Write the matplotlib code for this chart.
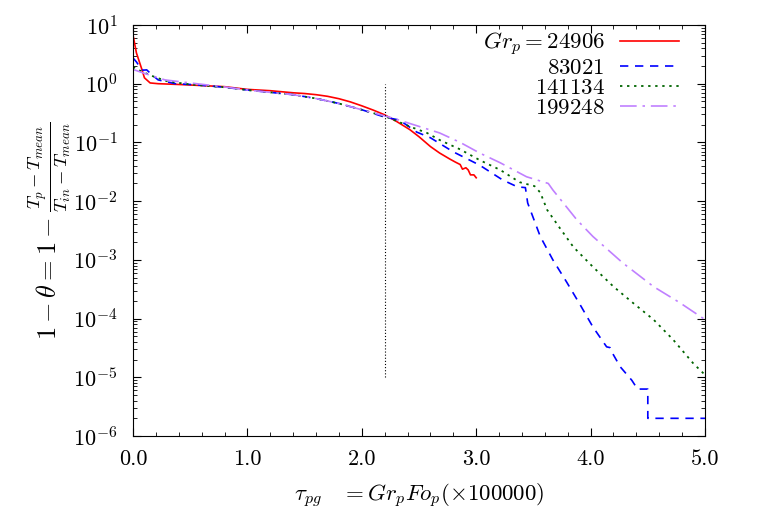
import matplotlib
matplotlib.use("Agg")
from matplotlib import pyplot as plt
from matplotlib.ticker import MultipleLocator, LogLocator, NullFormatter

# Gr_p = 24906
red_x = [0.0, 0.03, 0.08, 0.10, 0.15, 0.22, 0.4, 0.6, 0.8, 1.0, 1.2, 1.4, 1.5, 1.6, 1.7, 1.8, 1.9, 2.0,
         2.1, 2.2, 2.3, 2.42, 2.5, 2.6, 2.68, 2.77, 2.82, 2.86, 2.88, 2.91, 2.93, 2.95, 2.98, 3.0]
red_y = [6.8, 3.35, 1.7, 1.26, 1.03, 1.0, 0.97, 0.93, 0.89, 0.80, 0.76, 0.70, 0.68, 0.65, 0.61, 0.555, 0.49, 0.42,
         0.355, 0.295, 0.23, 0.165, 0.125, 0.085, 0.066, 0.052, 0.046, 0.042, 0.035, 0.037, 0.034, 0.028, 0.028, 0.025]

# Gr_p = 83021
blue_x = [0.0, 0.03, 0.07, 0.09, 0.12, 0.16, 0.22, 0.37, 0.54, 0.8, 1.0, 1.4, 1.6, 1.8, 2.0, 2.2,
          2.33, 2.48, 2.6, 2.8, 3.03, 3.23, 3.36, 3.43, 3.45, 3.56, 3.67, 3.79, 3.91, 4.02,
          4.14, 4.17, 4.2, 4.26, 4.36, 4.41, 4.5, 4.5, 5.0]
blue_y = [2.75, 2.35, 1.8, 1.7, 1.72, 1.45, 1.16, 1.0, 0.96, 0.87, 0.78, 0.65, 0.56, 0.46, 0.36, 0.27,
          0.24, 0.15, 0.12, 0.069, 0.041, 0.023, 0.0175, 0.017, 0.0093, 0.0025, 0.001, 4.2e-4, 1.7e-4, 7.2e-5,
          3.3e-5, 3.2e-5, 2.4e-5, 1.5e-5, 8.9e-6, 6.3e-6, 6.3e-6, 2e-6, 2e-6]

# Gr_p = 141134
green_x = [0.0, 0.08, 0.19, 0.3, 0.5, 0.8, 1.0, 1.4, 1.6, 1.8, 2.0, 2.22, 2.44, 2.57, 2.68, 2.86,
           3.03, 3.21, 3.38, 3.51, 3.56, 3.62, 3.73, 3.85, 4.02, 4.2, 4.37, 4.55, 4.72, 4.9, 5.0]
green_y = [1.93, 1.6, 1.3, 1.1, 0.97, 0.87, 0.78, 0.65, 0.56, 0.46, 0.36, 0.27, 0.18, 0.145, 0.11, 0.076,
           0.05, 0.034, 0.021, 0.018, 0.014, 0.0071, 0.0035, 0.00165, 7.6e-4, 3.5e-4, 1.85e-4, 9.6e-5,
           4.4e-5, 1.7e-5, 1.1e-5]

# Gr_p = 199248
purple_x = [0.0, 0.1, 0.28, 0.5, 0.8, 1.0, 1.4, 1.6, 1.8, 2.0, 2.27, 2.42, 2.68, 2.86, 3.03, 3.21,
            3.44, 3.63, 3.67, 3.88, 4.02, 4.28, 4.55, 4.78, 5.0]
purple_y = [1.75, 1.5, 1.16, 1.03, 0.88, 0.78, 0.65, 0.56, 0.46, 0.36, 0.26, 0.21, 0.145, 0.1, 0.066, 0.045,
            0.026, 0.020, 0.0155, 0.0048, 0.0025, 8.9e-4, 3.5e-4, 1.86e-4, 9.6e-5]

labels = [r"$Gr_p = 24906$", r"$83021$", r"$141134$", r"$199248$"]

# marker line at tau = 2.2
vline_x = 2.2
vline_lo, vline_hi = 1e-5, 1.0

plt.rcParams["font.family"] = "serif"
plt.rcParams["font.serif"] = ["cmr10", "DejaVu Serif"]
plt.rcParams["mathtext.fontset"] = "cm"
plt.rcParams["axes.unicode_minus"] = False
plt.rcParams["axes.formatter.use_mathtext"] = True
plt.rcParams["font.size"] = 16

fig = plt.figure(figsize=(7.7, 5.15), dpi=100)
ax = fig.add_axes([0.1727, 0.1534, 0.9156 - 0.1727, 0.9515 - 0.1534])

ax.plot(red_x, red_y, color="#ff0000", lw=1.2, label=labels[0])
ax.plot(blue_x, blue_y, color="#0000ff", lw=1.2, dashes=(5, 4), label=labels[1])
ax.plot(green_x, green_y, color="#006400", lw=1.3, dashes=(1.3, 2.6), label=labels[2])
ax.plot(purple_x, purple_y, color="#c080ff", lw=1.2, dashes=(10, 3.5, 1.5, 3.5), label=labels[3])
ax.plot([vline_x, vline_x], [vline_lo, vline_hi], color="black", lw=0.8, dashes=(1, 1.8))

ax.set_yscale("log")
ax.set_xlim(0, 5)
ax.set_ylim(1e-6, 10)
ax.xaxis.set_major_locator(MultipleLocator(1.0))
ax.xaxis.set_minor_locator(MultipleLocator(0.2))
ax.set_xticklabels(["%.1f" % v for v in ax.get_xticks()])
ax.yaxis.set_major_locator(LogLocator(base=10, numticks=20))
ax.yaxis.set_minor_locator(LogLocator(base=10, subs=range(2, 10), numticks=20))
ax.yaxis.set_minor_formatter(NullFormatter())

ax.tick_params(which="both", direction="in", top=True, right=True)
ax.tick_params(which="major", length=6, width=0.8)
ax.tick_params(which="minor", length=3, width=0.6)
ax.tick_params(axis="x", pad=10)
ax.tick_params(axis="y", pad=11)

ax.set_xlabel(r"$\tau_{pg}\ \ \ = Gr_pFo_p(\times 100000)$", fontsize=16.5, labelpad=9)
ax.set_ylabel(r"$1-\theta = 1-\frac{T_p - T_{mean}}{T_{in} - T_{mean}}$", fontsize=19, labelpad=0)

ax.legend(loc="upper right", bbox_to_anchor=(0.955, 0.985), markerfirst=False, frameon=False,
          fontsize=16.5, handlelength=2.6, handletextpad=0.65, labelspacing=0.0,
          borderpad=0, borderaxespad=0)

plt.savefig("out.png", dpi=100)
